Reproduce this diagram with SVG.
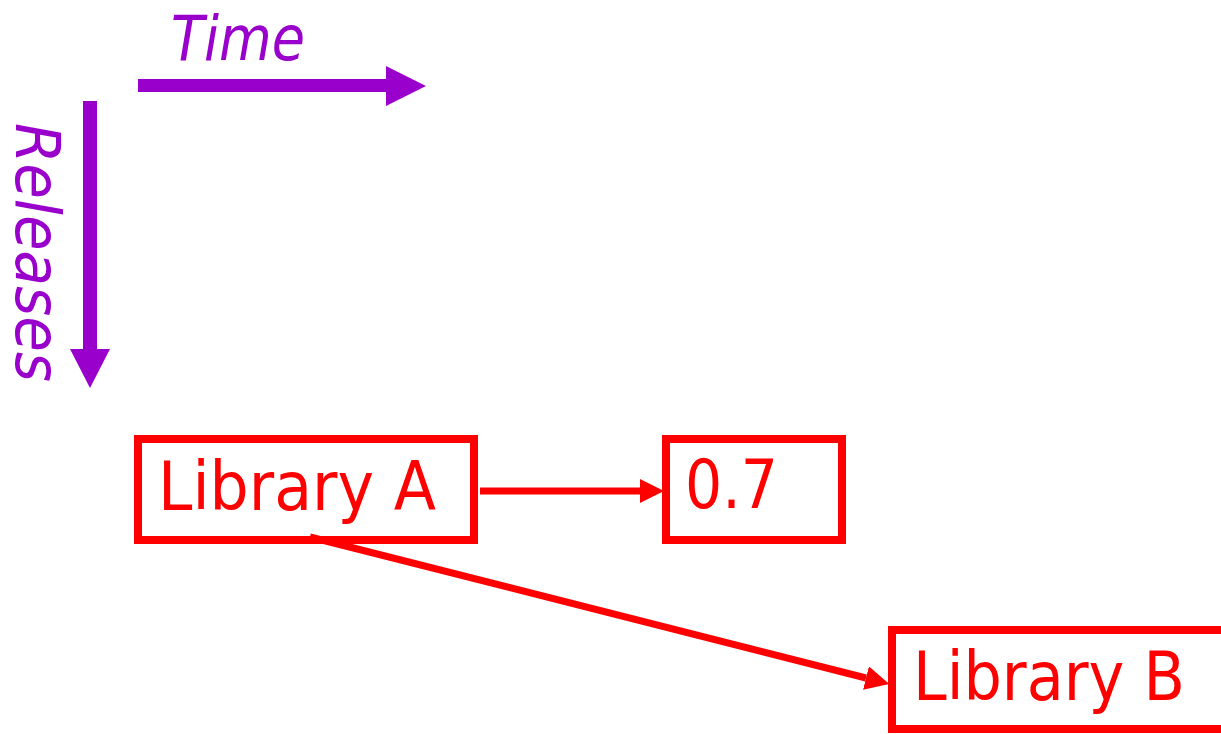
<svg xmlns="http://www.w3.org/2000/svg" width="1221" height="734" viewBox="0 0 1221 734">
<style>
.box{fill:#fff;stroke:#ff0000;stroke-width:8}
.lbl{font-family:"DejaVu Sans","Liberation Sans",sans-serif;font-size:67px;fill:#ff0000}
.axis{font-family:"DejaVu Sans","Liberation Sans",sans-serif;font-size:63px;font-style:italic;fill:#9900cc}
.conn{stroke:#ff0000;stroke-width:7;fill:none}
</style>
<defs>
<marker id="ah" markerUnits="userSpaceOnUse" viewBox="0 0 24 24" refX="0" refY="12" markerWidth="24" markerHeight="24" orient="auto">
<path d="M0,0 L24,12 L0,24 z" fill="#ff0000"/>
</marker>
</defs>
<rect width="1221" height="734" fill="#fff"/>
<g id="axes">
<path d="M138,79 H386 V66 L426,86 L386,106 V92 H138 z" fill="#9900cc"/>
<path d="M83,101 V349 H70 L90,388 L110,349 H97 V101 z" fill="#9900cc"/>
<text class="axis" x="171" y="60" textLength="134" lengthAdjust="spacingAndGlyphs">Time</text>
<text class="axis" transform="translate(16,123) rotate(90)" x="0" y="0" textLength="259" lengthAdjust="spacingAndGlyphs">Releases</text>
</g>
<g id="libA">
<rect class="box" x="138" y="439" width="336" height="101"/>
<text class="lbl" x="158" y="510" textLength="278" lengthAdjust="spacingAndGlyphs">Library A</text>
</g>
<g id="v07">
<rect class="box" x="666" y="439" width="176" height="101"/>
<text class="lbl" x="685" y="508" textLength="93" lengthAdjust="spacingAndGlyphs">0.7</text>
</g>
<g id="libB">
<rect class="box" x="892" y="630" width="340" height="99"/>
<text class="lbl" x="913" y="700" textLength="272" lengthAdjust="spacingAndGlyphs">Library B</text>
</g>
<g id="connectors">
<line class="conn" x1="480" y1="491" x2="640" y2="491" marker-end="url(#ah)"/>
<line class="conn" x1="310" y1="537" x2="866" y2="678" marker-end="url(#ah)"/>
</g>
</svg>
